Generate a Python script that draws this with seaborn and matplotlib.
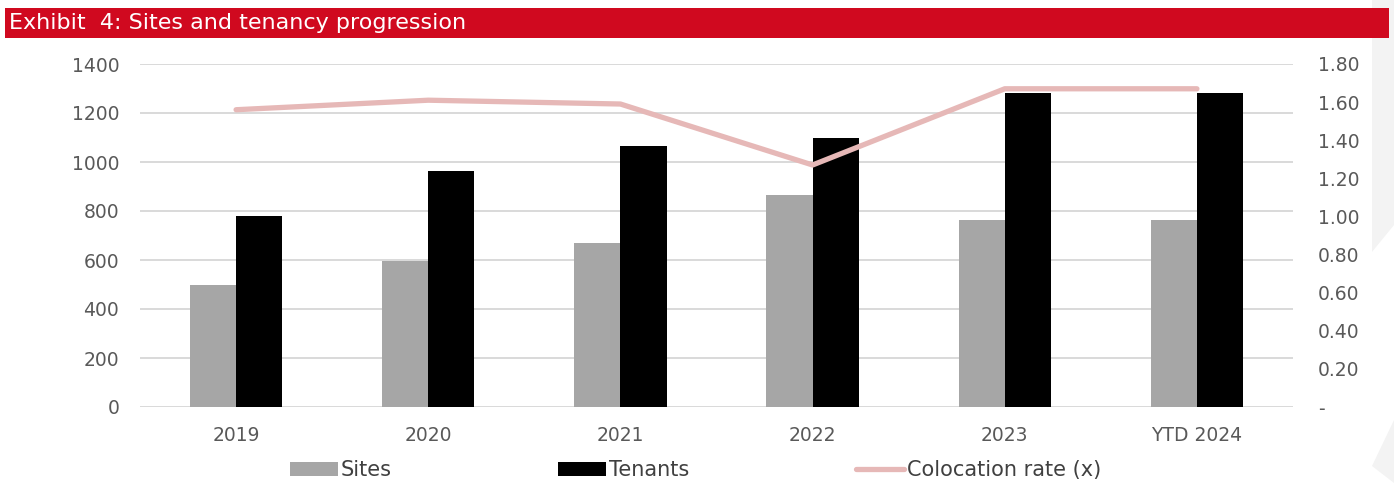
import matplotlib
matplotlib.use("Agg")
import matplotlib.pyplot as plt
from matplotlib.patches import Rectangle, Polygon, Patch
from matplotlib.lines import Line2D
import seaborn as sns
import pandas as pd

# ---- data ----
categories = ["2019", "2020", "2021", "2022", "2023", "YTD 2024"]
sites = [500, 596, 670, 865, 765, 765]
tenants = [780, 962, 1065, 1100, 1280, 1280]
colocation = [1.56, 1.61, 1.59, 1.27, 1.67, 1.67]
left_ticks = [0, 200, 400, 600, 800, 1000, 1200, 1400]
right_ticks = [0, 0.2, 0.4, 0.6, 0.8, 1.0, 1.2, 1.4, 1.6, 1.8]
right_labels = ["-", "0.20", "0.40", "0.60", "0.80", "1.00", "1.20", "1.40", "1.60", "1.80"]
title = "Exhibit  4: Sites and tenancy progression"

sns.set_theme(style="white")
plt.rcParams["font.family"] = ["DejaVu Sans"]

W, H = 1394, 483
fig = plt.figure(figsize=(W / 100, H / 100), dpi=100)
fig.patch.set_facecolor("white")

# light watermark shapes at right edge
def px(x, y):
    return (x / W, 1 - y / H)

fig.patches.append(Polygon([px(1372, 0), px(1394, 0), px(1394, 225), px(1372, 252)],
                           closed=True, transform=fig.transFigure, facecolor="#F3F3F3",
                           edgecolor="none", zorder=0))
fig.patches.append(Polygon([px(1394, 420), px(1372, 466), px(1394, 483)],
                           closed=True, transform=fig.transFigure, facecolor="#F3F3F3",
                           edgecolor="none", zorder=0))

# header band
fig.patches.append(Rectangle((5 / W, 1 - 38 / H), (1389 - 5) / W, 30 / H,
                             transform=fig.transFigure, facecolor="#D0091F",
                             edgecolor="none", zorder=1))
fig.text(9 / W, 1 - 23 / H, title, color="white", fontsize=16, va="center", ha="left",
         zorder=2)

ax = fig.add_axes([140 / W, 1 - 407 / H, (1293 - 140) / W, (407 - 64) / H])
ax.set_facecolor("none")

df = pd.DataFrame({
    "Year": categories * 2,
    "Series": ["Sites"] * len(categories) + ["Tenants"] * len(categories),
    "Value": sites + tenants,
})
sns.barplot(data=df, x="Year", y="Value", hue="Series", order=categories,
            palette={"Sites": "#A6A6A6", "Tenants": "#000000"}, width=0.48,
            ax=ax, legend=False, edgecolor="none", linewidth=0, zorder=3)

ax.set_ylim(0, 1400)
ax.set_yticks(left_ticks)
ax.set_xlim(-0.5, 5.5)
ax.grid(axis="y", color="#D9D9D9", linewidth=1.4, zorder=0)
ax.set_axisbelow(True)
for s in ax.spines.values():
    s.set_visible(False)
ax.set_xlabel("")
ax.set_ylabel("")
ax.tick_params(axis="y", length=0, pad=15, labelsize=13.5, labelcolor="#595959")
ax.tick_params(axis="x", length=0, pad=14, labelsize=13.5, labelcolor="#595959")

ax2 = ax.twinx()
line_df = pd.DataFrame({"Year": categories, "Rate": colocation})
sns.lineplot(data=line_df, x="Year", y="Rate", sort=False, color="#E6B8B7",
             linewidth=3.8, ax=ax2, zorder=4, solid_capstyle="round")
ax2.set_ylim(0, 1.8)
ax2.set_yticks(right_ticks)
ax2.set_yticklabels(right_labels)
ax2.set_xlim(-0.5, 5.5)
ax2.set_xlabel("")
ax2.set_ylabel("")
for s in ax2.spines.values():
    s.set_visible(False)
ax2.grid(False)
ax2.tick_params(axis="y", length=0, pad=18, labelsize=13.5, labelcolor="#595959")

handles = [Patch(facecolor="#A6A6A6", edgecolor="none"),
           Patch(facecolor="#000000", edgecolor="none"),
           Line2D([0], [0], color="#E6B8B7", linewidth=3.8, solid_capstyle="round")]
labels = ["Sites", "Tenants", "Colocation rate (x)"]
fig.legend(handles, labels, loc="center", bbox_to_anchor=(0.499, 1 - 470 / H), ncol=3,
           frameon=False, fontsize=15, labelcolor="#404040", handlelength=2.3,
           handletextpad=0.15, columnspacing=8.0, handleheight=0.65)

fig.savefig("out.png", dpi=100, facecolor="white")
